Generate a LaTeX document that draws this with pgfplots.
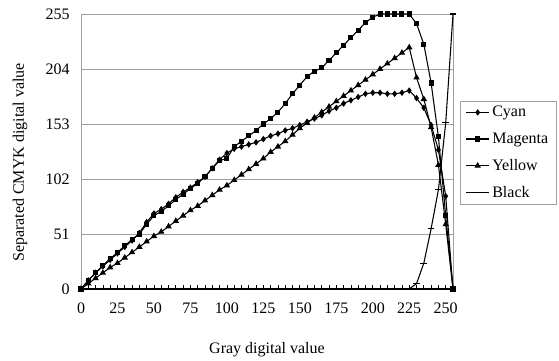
\documentclass[border=0pt]{standalone}
\usepackage{fontspec}
\setmainfont{Liberation Serif}
\usepackage{pgfplots}
\pgfplotsset{compat=1.18}
\usepackage{pgfplotstable}

% Separated C, M, Y values for each gray level
\pgfplotstableread{
g   c   m   y
0   0   0   0
5   8   8   5
10  15  15  10
15  21  22  15
20  27  28  20
25  33  34  24
30  39  40  29
35  45  46  34
40  52  51  39
45  62  60  44
50  70  68  49
55  74  72  53
60  79  77  58
65  85  83  63
70  90  88  68
75  94  93  73
80  99  98  77
85  104 104 82
90  112 112 87
95  120 119 92
100 126 121 96
105 130 132 101
110 132 137 106
115 134 142 111
120 136 147 116
125 139 153 121
130 142 158 127
135 144 164 132
140 147 172 137
145 149 181 143
150 152 189 149
155 155 197 154
160 158 202 159
165 161 205 164
170 165 212 169
175 168 219 174
180 172 226 179
185 175 233 184
190 178 240 189
195 181 247 194
200 182 252 199
205 182 255 204
210 181 255 209
215 181 255 214
220 182 255 219
225 184 255 224
230 177 246 196
235 168 227 176
240 152 191 150
245 129 141 115
250 86  68  60
255 0   0   0
}\cmy

% Black channel: zero up to 225, then rising to full
\pgfplotstableread{
g   k
0   0
25  0
50  0
75  0
100 0
125 0
150 0
175 0
200 0
225 0
230 5
235 24
240 56
245 92
250 154
255 255
}\blk

\newcommand{\lbl}{\fontsize{12}{14}\selectfont}

\begin{document}
\begin{tikzpicture}
\begin{axis}[
  scale only axis,
  width=279pt, height=206.25pt,
  xmin=0, xmax=255, ymin=0, ymax=255,
  xtick={0,25,...,250},
  minor xtick={0,5,...,255},
  ytick={0,51,...,255},
  ymajorgrids,
  major grid style={gray!75, line width=0.7pt},
  axis line style={gray!75, line width=0.7pt},
  xtick pos=bottom,
  tick align=inside,
  major tick length=3pt, minor tick length=3pt,
  x tick style={black, line width=0.5pt},
  minor x tick style={black, line width=0.5pt},
  y tick style={draw=none},
  /pgf/number format/assume math mode=true,
  tick label style={font=\lbl},
  x tick label style={yshift=-7pt},
  y tick label style={xshift=-5pt},
  xlabel={Gray digital value},
  ylabel={Separated CMYK digital value},
  xlabel style={at={(axis description cs:0.5,-0.2218)}, anchor=center, font=\lbl},
  ylabel style={at={(axis description cs:-0.164,0.46)}, anchor=center, font=\lbl},
  clip=false,
  legend cell align=left,
  legend style={at={(1.0188,0.6836)}, anchor=north west, draw=gray!75, line width=0.7pt,
    font=\lbl, row sep=6.5pt, inner xsep=4pt, inner ysep=1.5pt},
]
\addplot[black, line width=0.8pt, mark=diamond*, mark size=1.8pt] table[x=g, y=c] {\cmy};
\addlegendentry{Cyan}
\addplot[black, line width=0.8pt, mark=square*, mark size=1.5pt] table[x=g, y=m] {\cmy};
\addlegendentry{Magenta}
\addplot[black, line width=0.8pt, mark=triangle*, mark size=2pt] table[x=g, y=y] {\cmy};
\addlegendentry{Yellow}
\addplot[black, line width=0.8pt, mark=-, mark size=2.5pt, forget plot] table[x=g, y=k] {\blk};
\addlegendimage{black, line width=0.8pt}
\addlegendentry{Black}
% darker baseline along the gray axis
\draw[black, line width=0.8pt] (rel axis cs:0,0) -- (rel axis cs:1,0);
\end{axis}
\pgfresetboundingbox
\useasboundingbox (-60.75pt,-53.25pt) rectangle (358.5pt,216.75pt);
\end{tikzpicture}
\end{document}
